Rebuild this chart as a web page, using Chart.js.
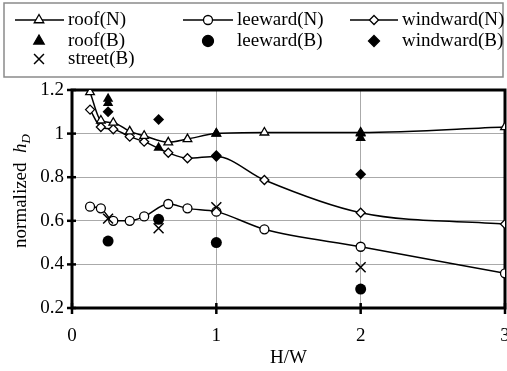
<!DOCTYPE html>
<html>
<head>
<style>
  html, body { margin: 0; padding: 0; background: #fff; }
</style>
<script src="https://cdn.jsdelivr.net/npm/chart.js"></script>
</head>
<body>
<canvas id="myChart" width="507" height="371"></canvas>
<script>
// H/W positions of the numerical (N) runs
const hwN = [0.125, 0.2, 0.286, 0.4, 0.5, 0.667, 0.8, 1, 1.333, 2, 3];
const roofN = [1.19, 1.06, 1.05, 1.01, 0.99, 0.96, 0.975, 1.0, 1.005, 1.005, 1.03];
const leewardN = [0.665, 0.657, 0.60, 0.60, 0.62, 0.677, 0.657, 0.642, 0.561, 0.481, 0.359];
const windwardN = [1.11, 1.03, 1.02, 0.986, 0.963, 0.912, 0.887, 0.895, 0.787, 0.637, 0.585];

// (B) measurements
const hwRoofB = [0.25, 0.25, 0.6, 1, 2, 2];
const roofB = [1.16, 1.14, 0.935, 1.0, 1.0, 0.98];
const hwB = [0.25, 0.6, 1, 2];
const leewardB = [0.507, 0.607, 0.50, 0.287];
const windwardB = [1.10, 1.065, 0.90, 0.813];
const streetB = [0.61, 0.566, 0.662, 0.387];

const xTicks = [0, 1, 2, 3];
const yTicks = [0.2, 0.4, 0.6, 0.8, 1, 1.2];

const FONT = "'Liberation Serif', 'Times New Roman', serif";
Chart.defaults.font.family = FONT;
Chart.defaults.font.size = 19;
Chart.defaults.color = '#000';

function pts(xs, ys) {
  return xs.map((x, i) => ({ x: x, y: ys[i] }));
}

function lineSet(label, xs, ys, style, r) {
  return {
    label: label, data: pts(xs, ys), showLine: true,
    cubicInterpolationMode: 'monotone',
    borderColor: '#000', borderWidth: 1.5,
    pointStyle: style, pointRadius: r, pointBorderWidth: 1.3,
    pointBackgroundColor: '#fff', pointBorderColor: '#000',
    order: 2
  };
}
function markSet(label, xs, ys, style, r) {
  return {
    label: label, data: pts(xs, ys), showLine: false,
    pointStyle: style, pointRadius: r, pointBorderWidth: style === 'crossRot' ? 1.5 : 0,
    pointBackgroundColor: '#000', pointBorderColor: '#000',
    order: 1
  };
}

// small marker painter for the legend box
function marker(ctx, style, x, y, r, filled) {
  ctx.save();
  ctx.beginPath();
  ctx.lineWidth = 1.3;
  ctx.strokeStyle = '#000';
  ctx.fillStyle = filled ? '#000' : '#fff';
  if (style === 'triangle') {
    ctx.moveTo(x, y - r);
    ctx.lineTo(x + r * Math.sin(2 * Math.PI / 3), y - r * Math.cos(2 * Math.PI / 3));
    ctx.lineTo(x - r * Math.sin(2 * Math.PI / 3), y - r * Math.cos(2 * Math.PI / 3));
    ctx.closePath();
  } else if (style === 'circle') {
    ctx.arc(x, y, r, 0, Math.PI * 2);
  } else if (style === 'rectRot') {
    ctx.moveTo(x, y - r); ctx.lineTo(x + r, y); ctx.lineTo(x, y + r); ctx.lineTo(x - r, y);
    ctx.closePath();
  } else if (style === 'crossRot') {
    const d = r * Math.SQRT1_2;
    ctx.lineWidth = 1.5;
    ctx.moveTo(x - d, y - d); ctx.lineTo(x + d, y + d);
    ctx.moveTo(x + d, y - d); ctx.lineTo(x - d, y + d);
    ctx.stroke();
    ctx.restore();
    return;
  }
  ctx.fill();
  ctx.stroke();
  ctx.restore();
}

const frame = {
  id: 'frame',
  beforeDatasetsDraw(chart) {
    const { ctx, chartArea: a, scales } = chart;
    ctx.save();
    ctx.strokeStyle = '#000';
    ctx.lineWidth = 3;
    ctx.strokeRect(a.left, a.top, a.right - a.left, a.bottom - a.top);
    ctx.lineWidth = 2.5;
    yTicks.forEach(v => {
      const y = scales.y.getPixelForValue(v);
      ctx.beginPath(); ctx.moveTo(a.left - 5, y); ctx.lineTo(a.left + 4, y); ctx.stroke();
    });
    xTicks.forEach(v => {
      const x = scales.x.getPixelForValue(v);
      ctx.beginPath(); ctx.moveTo(x, a.bottom - 5); ctx.lineTo(x, a.bottom + 6); ctx.stroke();
    });
    ctx.restore();
  },
  afterDraw(chart) {
    const { ctx, chartArea: a } = chart;
    ctx.save();
    // axis titles
    ctx.fillStyle = '#000';
    ctx.font = '19px ' + FONT;
    ctx.textAlign = 'center';
    ctx.textBaseline = 'middle';
    ctx.fillText('H/W', (a.left + a.right) / 2, 358);

    ctx.translate(20, 191);
    ctx.rotate(-Math.PI / 2);
    const t1 = 'normalized  ';
    ctx.font = '19px ' + FONT;
    const w1 = ctx.measureText(t1).width;
    ctx.font = 'italic 19px ' + FONT;
    const w2 = ctx.measureText('h').width;
    ctx.font = 'italic 13px ' + FONT;
    const w3 = ctx.measureText('D').width;
    let x0 = -(w1 + w2 + w3) / 2;
    ctx.textAlign = 'left';
    ctx.textBaseline = 'alphabetic';
    ctx.font = '19px ' + FONT;
    ctx.fillText(t1, x0, 6);
    ctx.font = 'italic 19px ' + FONT;
    ctx.fillText('h', x0 + w1, 6);
    ctx.font = 'italic 13px ' + FONT;
    ctx.fillText('D', x0 + w1 + w2, 10);
    ctx.restore();

    // legend box
    ctx.save();
    ctx.strokeStyle = '#8a8a8a';
    ctx.lineWidth = 1.5;
    ctx.strokeRect(4, 3, 499, 74);
    const cols = [{ l: 15, s: 39, r: 64, t: 68 }, { l: 183, s: 208, r: 233, t: 237 }, { l: 350, s: 374, r: 398, t: 402 }];
    const rows = [20, 41, 59];
    const items = [
      [0, 0, 'triangle', 5.5, false, true, 'roof(N)'],
      [1, 0, 'circle', 4.5, false, true, 'leeward(N)'],
      [2, 0, 'rectRot', 4.5, false, true, 'windward(N)'],
      [0, 1, 'triangle', 6, true, false, 'roof(B)'],
      [1, 1, 'circle', 5.5, true, false, 'leeward(B)'],
      [2, 1, 'rectRot', 5.5, true, false, 'windward(B)'],
      [0, 2, 'crossRot', 7, true, false, 'street(B)']
    ];
    ctx.font = '19px ' + FONT;
    ctx.fillStyle = '#000';
    ctx.textBaseline = 'middle';
    items.forEach(it => {
      const c = cols[it[0]], y = rows[it[1]];
      if (it[5]) {
        ctx.beginPath(); ctx.lineWidth = 1.5; ctx.strokeStyle = '#000';
        ctx.moveTo(c.l, y); ctx.lineTo(c.r, y); ctx.stroke();
      }
      marker(ctx, it[2], c.s, y, it[3], it[4]);
      ctx.fillStyle = '#000';
      ctx.fillText(it[6], c.t, y);
    });
    ctx.restore();
  }
};

new Chart(document.getElementById('myChart'), {
  type: 'scatter',
  data: {
    datasets: [
      lineSet('roof(N)', hwN, roofN, 'triangle', 5),
      lineSet('leeward(N)', hwN, leewardN, 'circle', 4.5),
      lineSet('windward(N)', hwN, windwardN, 'rectRot', 4.5),
      markSet('roof(B)', hwRoofB, roofB, 'triangle', 6),
      markSet('leeward(B)', hwB, leewardB, 'circle', 5.5),
      markSet('windward(B)', hwB, windwardB, 'rectRot', 5.5),
      markSet('street(B)', hwB, streetB, 'crossRot', 7)
    ]
  },
  options: {
    responsive: false,
    animation: false,
    layout: { padding: { top: 90, right: 2, left: 0, bottom: 0 }, autoPadding: false },
    plugins: { legend: { display: false }, tooltip: { enabled: false } },
    scales: {
      x: {
        type: 'linear', min: 0, max: 3,
        afterFit(s) { s.height = 63; s.paddingLeft = 0; s.paddingRight = 0; },
        afterBuildTicks(s) { s.ticks = xTicks.map(v => ({ value: v })); },
        ticks: { padding: 17, maxRotation: 0 },
        grid: { color: '#aaa', lineWidth: 1, drawTicks: false },
        border: { display: false }
      },
      y: {
        type: 'linear', min: 0.2, max: 1.2,
        afterFit(s) { s.width = 72; s.paddingTop = 0; s.paddingBottom = 0; },
        afterBuildTicks(s) { s.ticks = yTicks.map(v => ({ value: v })); },
        ticks: { padding: 8, callback: v => String(+v.toFixed(1)) },
        grid: { color: '#aaa', lineWidth: 1, drawTicks: false },
        border: { display: false }
      }
    }
  },
  plugins: [frame]
});
</script>
</body>
</html>
